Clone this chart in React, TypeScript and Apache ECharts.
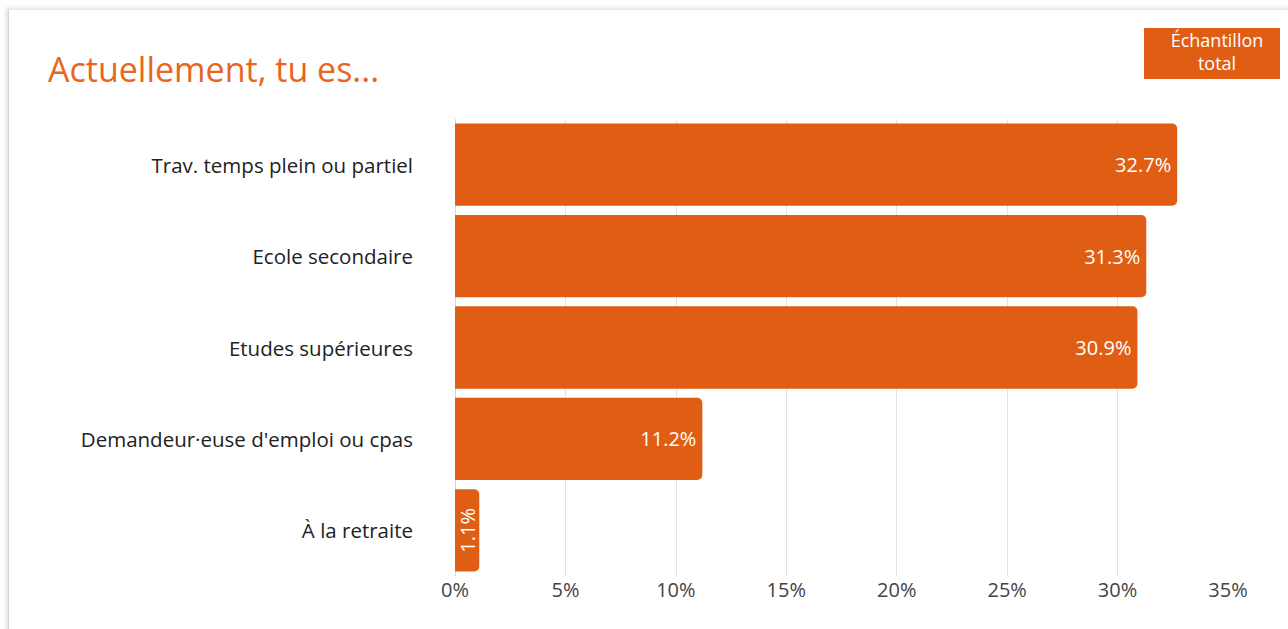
import React, { useEffect, useRef } from "react";
import * as echarts from "echarts";

const categories = [
  "Trav. temps plein ou partiel",
  "Ecole secondaire",
  "Etudes supérieures",
  "Demandeur·euse d'emploi ou cpas",
  "À la retraite",
];
const values = [32.7, 31.3, 30.9, 11.2, 1.1];
const seriesName = "Échantillon total";
const legendLines = ["Échantillon", "total"];
const titleText = "Actuellement, tu es...";

const ORANGE = "#E05E14";
const FONT = "'Open Sans', 'Noto Sans', sans-serif";

export default function App() {
  const ref = useRef<HTMLDivElement>(null);
  useEffect(() => {
    if (!ref.current) return;
    const chart = echarts.init(ref.current, undefined, { renderer: "svg" });
    const yCats = [...categories].reverse();
    const yVals = [...values].reverse();
    chart.setOption({
      animation: false,
      textStyle: { fontFamily: FONT },
      title: {
        text: titleText,
        left: 43,
        top: 47,
        textStyle: { color: "#E8661E", fontSize: 34, fontWeight: "normal", fontFamily: FONT },
      },
      graphic: [
        {
          type: "rect",
          shape: { x: 1144, y: 28, width: 136, height: 51 },
          style: { fill: ORANGE },
        },
        ...legendLines.map((t, i) => ({
          type: "text",
          x: 1217,
          y: 40 + i * 23,
          style: {
            text: t,
            fill: "#fff",
            fontSize: 18,
            align: "center",
            verticalAlign: "middle",
            fontFamily: FONT,
          },
        })),
      ],
      grid: { left: 455, right: 60, top: 119, bottom: 53, containLabel: false },
      xAxis: {
        type: "value",
        min: 0,
        max: 35,
        interval: 5,
        axisLine: { show: false },
        axisTick: { show: false },
        axisLabel: {
          formatter: "{value}%",
          color: "#444",
          fontSize: 20,
          margin: 3,
          fontFamily: FONT,
        },
        splitLine: {
          show: true,
          lineStyle: {
            color: ["#d8d8d8", "#e2e2e2", "#e2e2e2", "#e2e2e2", "#e2e2e2", "#e2e2e2", "#e2e2e2", "rgba(0,0,0,0)"],
            width: 1,
          },
        },
      },
      yAxis: {
        type: "category",
        data: yCats,
        axisLine: { show: false },
        axisTick: { show: false },
        axisLabel: { color: "#222", fontSize: 20.5, margin: 42, fontFamily: FONT },
      },
      series: [
        {
          name: seriesName,
          type: "bar",
          data: yVals.map((v) => ({
            value: v,
            label: v < 3 ? { position: "inside", rotate: 90, distance: 0 } : undefined,
          })),
          barCategoryGap: "10%",
          itemStyle: { color: ORANGE, borderRadius: [0, 5, 5, 0] },
          label: {
            show: true,
            position: "insideRight",
            distance: 6,
            color: "#fff",
            fontSize: 20,
            fontFamily: FONT,
            formatter: (p: any) => `${p.value}%`,
          },
        },
      ],
    });
    return () => chart.dispose();
  }, []);
  return (
    <div style={{ position: "absolute", left: 0, top: 0, width: 1288, height: 629, background: "#fff", overflow: "hidden" }}>
      <div
        style={{
          position: "absolute",
          left: 8,
          top: 9,
          width: 1300,
          height: 700,
          background: "#fff",
          borderLeft: "1px solid #d6d6d6",
          borderTop: "1px solid #e8e8e8",
          boxShadow: "-2px -1px 4px rgba(0,0,0,0.12)",
        }}
      />
      <div ref={ref} style={{ position: "absolute", left: 0, top: 0, width: 1288, height: 629 }} />
    </div>
  );
}
